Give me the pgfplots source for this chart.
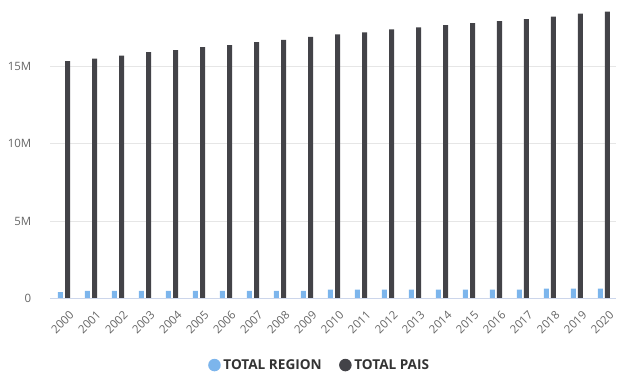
\documentclass[border=0pt]{standalone}
\usepackage{pgfplots}
\pgfplotsset{compat=1.18}
\usepackage{fontspec}
\setmainfont{Open Sans}
\definecolor{cblue}{HTML}{7CB5EC}
\definecolor{cdark}{HTML}{434348}
\definecolor{ctick}{HTML}{666666}
\definecolor{cgrid}{HTML}{E6E6E6}
\definecolor{caxis}{HTML}{CCD6EB}
\definecolor{clegend}{HTML}{333333}
\begin{document}
\begin{tikzpicture}
\path[use as bounding box] (0,0) rectangle (470.25pt,282pt);
\begin{axis}[
  at={(37.5pt,58.125pt)}, anchor=south west,
  scale only axis, width=424.5pt, height=223.875pt,
  xmin=-0.52, xmax=20.45, ymin=0, ymax=19.28,
  axis line style={draw=none},
  axis x line*=bottom, axis y line*=left,
  ymajorgrids, grid style={cgrid, line width=0.75pt},
  major tick length=0pt,
  ytick={0,5,10,15}, yticklabels={0,5M,10M,15M},
  xtick={0,...,20},
  xticklabels={2000,2001,2002,2003,2004,2005,2006,2007,2008,2009,2010,2011,2012,2013,2014,2015,2016,2017,2018,2019,2020},
  tick label style={font=\fontsize{8.6pt}{9pt}\selectfont, text=ctick},
  yticklabel style={xshift=-10.5pt},
  xticklabel style={rotate=45, anchor=north east, inner sep=1pt, xshift=-2.5pt, yshift=-7.5pt},
  ybar, bar width=3.75pt,
  legend style={at={(0.477,-0.223)}, anchor=center, draw=none, legend columns=2,
    font=\fontsize{10.2pt}{11pt}\selectfont\bfseries, text=clegend,
    /tikz/every even column/.append style={column sep=11pt}},
  legend cell align=left,
]
\addplot+[fill=cblue, draw=none, bar shift=-2.7pt,
  legend image code/.code={\fill[cblue] (0.25em,0) circle (4.7pt);}]
coordinates {
(0,0.42) (1,0.50) (2,0.50) (3,0.50) (4,0.50) (5,0.50) (6,0.50) (7,0.50) (8,0.50) (9,0.50)
(10,0.57) (11,0.57) (12,0.57) (13,0.57) (14,0.57) (15,0.57) (16,0.57) (17,0.57)
(18,0.64) (19,0.64) (20,0.64)};
\addlegendentry{TOTAL REGION}
\addplot+[fill=cdark, draw=none, bar shift=2.7pt,
  legend image code/.code={\fill[cdark] (0.25em,0) circle (4.7pt);}]
coordinates {
(0,15.34) (1,15.50) (2,15.69) (3,15.91) (4,16.04) (5,16.23) (6,16.36) (7,16.56) (8,16.71) (9,16.90)
(10,17.06) (11,17.19) (12,17.38) (13,17.51) (14,17.66) (15,17.79) (16,17.92) (17,18.05)
(18,18.20) (19,18.40) (20,18.53)};
\addlegendentry{TOTAL PAIS}
\draw[caxis, line width=0.75pt] (rel axis cs:0,0) -- (rel axis cs:1,0);
\end{axis}
\end{tikzpicture}
\end{document}
